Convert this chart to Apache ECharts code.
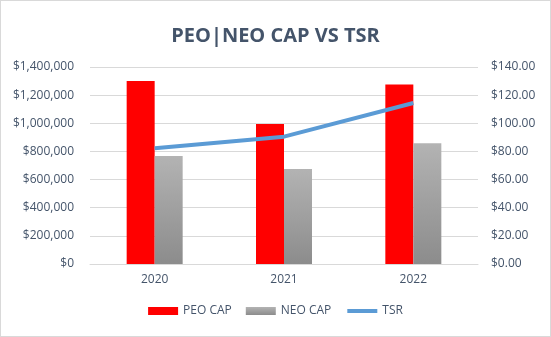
<!DOCTYPE html>
<html><head><meta charset="utf-8">
<script src="https://cdn.jsdelivr.net/npm/echarts@6/dist/echarts.min.js"></script>
<style>html,body{margin:0;padding:0;background:#fff}#c{width:551px;height:337px;box-sizing:border-box;border:1px solid #d9d9d9}</style>
</head><body><div id="c"></div>
<script>
const categories = ['2020', '2021', '2022'];
const peoCap = [1300000, 995000, 1275000];
const neoCap = [768000, 676000, 858000];
const tsr = [82.3, 90.5, 114.4];

const chart = echarts.init(document.getElementById('c'));
const font = 'Open Sans';
const txt = '#44546A';
const grayGrad = new echarts.graphic.LinearGradient(0, 0, 0, 1, [
  {offset: 0, color: '#b3b3b3'}, {offset: 1, color: '#8c8c8c'}]);
chart.setOption({
  animation: false,
  title: {text: 'PEO|NEO CAP VS TSR', left: 'center', top: 20,
    textStyle: {fontFamily: font, fontSize: 20, fontWeight: 'bold', color: '#44546A'}},
  legend: {bottom: 14, left: 'center', itemWidth: 30, itemHeight: 8, itemGap: 14,
    textStyle: {fontFamily: font, fontSize: 12, color: txt},
    data: [{name: 'PEO CAP', icon: 'rect'}, {name: 'NEO CAP', icon: 'rect'},
      {name: 'TSR', itemStyle: {opacity: 0}, lineStyle: {width: 4, color: '#5b9bd5'}}]},
  grid: {left: 89, right: 72, top: 66, bottom: 72},
  xAxis: {type: 'category', data: categories,
    axisTick: {show: false},
    axisLine: {lineStyle: {color: '#d9d9d9'}},
    axisLabel: {fontFamily: font, fontSize: 12, color: txt, margin: 10}},
  yAxis: [
    {type: 'value', min: 0, max: 1400000, interval: 200000,
      splitLine: {lineStyle: {color: '#d9d9d9'}},
      axisLabel: {fontFamily: font, fontSize: 12, color: txt, margin: 16,
        formatter: v => '$' + v.toLocaleString('en-US')}},
    {type: 'value', min: 0, max: 140, interval: 20, splitLine: {show: false},
      axisLabel: {fontFamily: font, fontSize: 12, color: txt, margin: 13,
        formatter: v => '$' + v.toFixed(2)}}
  ],
  series: [
    {name: 'PEO CAP', type: 'bar', data: peoCap, barWidth: 28, barGap: '0%',
      itemStyle: {color: '#ff0000'}},
    {name: 'NEO CAP', type: 'bar', data: neoCap, barWidth: 28,
      itemStyle: {color: grayGrad}},
    {name: 'TSR', type: 'line', yAxisIndex: 1, data: tsr, smooth: false,
      symbol: 'none', lineStyle: {color: '#5b9bd5', width: 4}, itemStyle: {color: '#5b9bd5'}}
  ]
});
</script></body></html>
